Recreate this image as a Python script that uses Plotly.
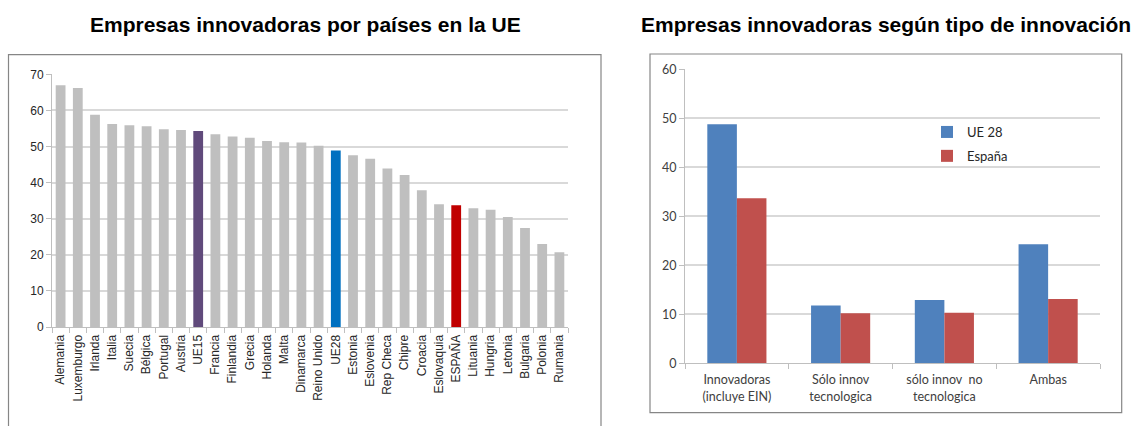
import plotly.graph_objects as go

# ---- Data: left chart ----
paises = ["Alemania", "Luxemburgo", "Irlanda", "Italia", "Suecia", "Bélgica", "Portugal",
          "Austria", "UE15", "Francia", "Finlandia", "Grecia", "Holanda", "Malta",
          "Dinamarca", "Reino Unido", "UE28", "Estonia", "Eslovenia", "Rep Checa", "Chipre",
          "Croacia", "Eslovaquia", "ESPAÑA", "Lituania", "Hungria", "Letonia", "Bulgaria",
          "Polonia", "Rumania"]
valores_paises = [67.0, 66.2, 58.8, 56.2, 55.9, 55.6, 54.8, 54.6, 54.3, 53.4, 52.8, 52.4,
                  51.5, 51.2, 51.1, 50.2, 48.9, 47.6, 46.6, 43.9, 42.1, 37.9, 34.0, 33.7,
                  32.9, 32.5, 30.5, 27.4, 23.0, 20.7]
left_ticks = [0, 10, 20, 30, 40, 50, 60, 70]

# ---- Data: right chart ----
tipos = ["Innovadoras<br>(incluye EIN)", "Sólo innov<br>tecnologica",
         "sólo innov  no<br>tecnologica", "Ambas"]
ue28_vals = [48.8, 11.8, 12.9, 24.3]
espana_vals = [33.7, 10.2, 10.3, 13.1]
right_ticks = [0, 10, 20, 30, 40, 50, 60]

W, H = 1138, 426

def px(x):
    return x / W

def py(y):
    return 1 - y / H

highlight = {"UE15": "#604A7B", "UE28": "#0070C0", "ESPAÑA": "#C00000"}
colors_left = [highlight.get(p, "#BFBFBF") for p in paises]

fig = go.Figure()

fig.add_trace(go.Bar(x=paises, y=valores_paises, marker=dict(color=colors_left, line=dict(width=0)),
                     showlegend=False, xaxis="x", yaxis="y", hoverinfo="x+y"))

fig.add_trace(go.Bar(x=tipos, y=ue28_vals, name="UE 28", marker=dict(color="#4F81BD", line=dict(width=0)),
                     xaxis="x2", yaxis="y2", legendgroup="a"))
fig.add_trace(go.Bar(x=tipos, y=espana_vals, name="España", marker=dict(color="#C0504D", line=dict(width=0)),
                     xaxis="x2", yaxis="y2", legendgroup="b"))

axis_col = "#BFBFBF"
grid_col = "#D9D9D9"

fig.update_layout(
    width=W, height=H, autosize=False,
    margin=dict(l=0, r=0, t=0, b=0, autoexpand=False),
    paper_bgcolor="white", plot_bgcolor="white",
    barmode="group",
    bargap=0.43, bargroupgap=0,
    font=dict(family="Liberation Sans, Arial", color="#404040"),
    xaxis=dict(domain=[px(52), px(568)], anchor="y", type="category", automargin=False,
               tickangle=-90, tickfont=dict(size=12, family="Liberation Sans, Arial", color="#262626"),
               ticklabelstandoff=2,
               showline=True, linecolor=axis_col, linewidth=1,
               ticks="outside", ticklen=5, tickcolor=axis_col, tickson="boundaries",
               showgrid=False, fixedrange=True),
    yaxis=dict(domain=[py(327), py(74.3)], anchor="x", range=[0, 70], tickvals=left_ticks,
               automargin=False,
               tickfont=dict(size=12, family="Liberation Sans, Arial", color="#262626"),
               showline=True, linecolor=axis_col, linewidth=1,
               ticks="outside", ticklen=5, tickcolor=axis_col,
               showgrid=True, gridcolor=grid_col, gridwidth=1.5, zeroline=False, fixedrange=True),
    xaxis2=dict(domain=[px(685), px(1100)], anchor="y2", type="category", automargin=False,
                tickangle=0, tickfont=dict(size=12.5, family="Lato, Open Sans", color="#404040"),
                ticklabelstandoff=5,
                showline=True, linecolor=axis_col, linewidth=1,
                ticks="outside", ticklen=5, tickcolor=axis_col, tickson="boundaries",
                showgrid=False, fixedrange=True),
    yaxis2=dict(domain=[py(363.3), py(69.3)], anchor="x2", range=[0, 60], tickvals=right_ticks,
                automargin=False,
                tickfont=dict(size=12.5, family="Lato, Open Sans", color="#404040"),
                showline=True, linecolor=axis_col, linewidth=1,
                ticks="outside", ticklen=5, tickcolor=axis_col,
                showgrid=True, gridcolor=grid_col, gridwidth=1.5, zeroline=False, fixedrange=True),
    legend=dict(x=px(927), y=py(117), xanchor="left", yanchor="top",
                font=dict(size=13, family="Lato, Open Sans", color="#262626"),
                bgcolor="rgba(0,0,0,0)", tracegroupgap=4, itemwidth=30),
    annotations=[
        dict(text="<b>Empresas innovadoras por países en la UE</b>", x=px(305), y=py(25),
             xref="paper", yref="paper", showarrow=False, xanchor="center", yanchor="middle",
             font=dict(size=21, family="Liberation Sans, Arial", color="black")),
        dict(text="<b>Empresas innovadoras según tipo de innovación</b>", x=px(886), y=py(25),
             xref="paper", yref="paper", showarrow=False, xanchor="center", yanchor="middle",
             font=dict(size=21, family="Liberation Sans, Arial", color="black")),
    ],
    shapes=[
        dict(type="rect", xref="paper", yref="paper", x0=px(8.5), x1=px(601), y0=py(440), y1=py(54.7),
             line=dict(color="#868686", width=1.2), fillcolor="rgba(0,0,0,0)", layer="below"),
        dict(type="rect", xref="paper", yref="paper", x0=px(650), x1=px(1121.7), y0=py(412.7), y1=py(54),
             line=dict(color="#868686", width=1.2), fillcolor="rgba(0,0,0,0)", layer="below"),
    ],
)

fig.write_html("out.html", config={"displayModeBar": False},
               post_script="document.body.style.margin='0';")
